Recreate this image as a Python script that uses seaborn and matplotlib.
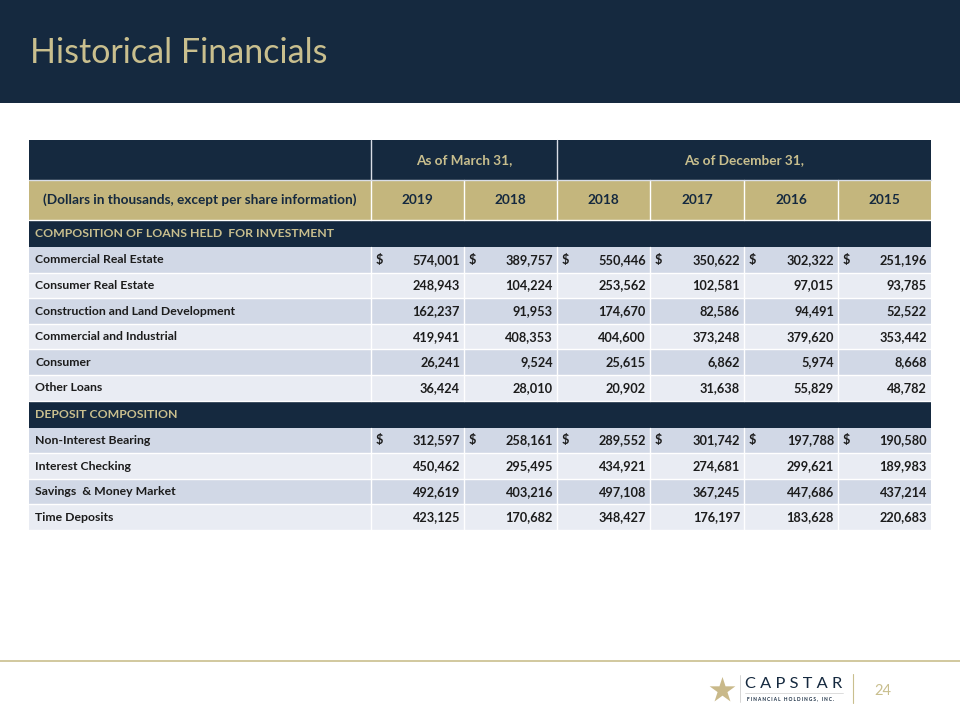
import matplotlib.pyplot as plt
import seaborn as sns
from matplotlib.patches import Rectangle

sns.set_theme(style="white")
plt.rcParams['font.family'] = ['Lato', 'DejaVu Sans']

# data
years = ["2019", "2018", "2018", "2017", "2016", "2015"]
groups = ["As of March 31,", "As of December 31,"]
loan_labels = ["Commercial Real Estate", "Consumer Real Estate",
               "Construction and Land Development", "Commercial and Industrial",
               "Consumer", "Other Loans"]
loan_values = [
    [574001, 389757, 550446, 350622, 302322, 251196],
    [248943, 104224, 253562, 102581, 97015, 93785],
    [162237, 91953, 174670, 82586, 94491, 52522],
    [419941, 408353, 404600, 373248, 379620, 353442],
    [26241, 9524, 25615, 6862, 5974, 8668],
    [36424, 28010, 20902, 31638, 55829, 48782],
]
deposit_labels = ["Non-Interest Bearing", "Interest Checking",
                  "Savings  & Money Market", "Time Deposits"]
deposit_values = [
    [312597, 258161, 289552, 301742, 197788, 190580],
    [450462, 295495, 434921, 274681, 299621, 189983],
    [492619, 403216, 497108, 367245, 447686, 437214],
    [423125, 170682, 348427, 176197, 183628, 220683],
]

NAVY = "#15293f"
GOLD = "#c4b67d"
TGOLD = "#c9bf8e"
ROW_A = "#d1d8e6"
ROW_B = "#e9ecf3"
TXT = "#1c1c1c"
HDR_FS = 9.8
LAB_FS = 8.8
NUM_FS = 9.2

fig = plt.figure(figsize=(9.6, 7.2), dpi=100)
ax = fig.add_axes([0, 0, 1, 1])
ax.set_xlim(0, 960)
ax.set_ylim(720, 0)
ax.axis("off")

# header band
ax.add_patch(Rectangle((0, 0), 960, 103, color=NAVY, lw=0))
ax.text(30, 53, "Historical Financials", color=TGOLD, fontsize=24.5, va="center", ha="left")

# table geometry
col_edges = [29, 371, 464, 557, 650, 744, 838, 931]
row_h = 25.6

def cell(x0, x1, y0, y1, color):
    ax.add_patch(Rectangle((x0, y0), x1 - x0, y1 - y0, color=color, lw=0))

# header row 1
cell(col_edges[0], col_edges[-1], 140, 180, NAVY)
ax.text((col_edges[1] + col_edges[3]) / 2, 160, groups[0], color=TGOLD, fontsize=HDR_FS,
        fontweight="bold", ha="center", va="center")
ax.text((col_edges[3] + col_edges[-1]) / 2, 160, groups[1], color=TGOLD, fontsize=HDR_FS,
        fontweight="bold", ha="center", va="center")
for x in [col_edges[1], col_edges[3]]:
    ax.plot([x, x], [140, 180], color="#d8dde6", lw=1)

# header row 2
cell(col_edges[0], col_edges[-1], 180, 220, GOLD)
ax.text((col_edges[0] + col_edges[1]) / 2, 200,
        "(Dollars in thousands, except per share information)",
        color=NAVY, fontsize=HDR_FS, fontweight="bold", ha="center", va="center")
for i, yr in enumerate(years):
    ax.text((col_edges[i + 1] + col_edges[i + 2]) / 2, 200, yr, color=NAVY,
            fontsize=HDR_FS, fontweight="bold", ha="center", va="center")
for x in col_edges[1:-1]:
    ax.plot([x, x], [180, 220], color="white", lw=1)
ax.plot([col_edges[0], col_edges[-1]], [180, 180], color="#d8dde6", lw=1)
ax.plot([col_edges[0], col_edges[-1]], [220, 220], color="white", lw=1)


def section(y0, title, labels, values):
    y1 = y0 + 27
    cell(col_edges[0], col_edges[-1], y0, y1, NAVY)
    ax.text(35, (y0 + y1) / 2, title, color=TGOLD, fontsize=8.8, fontweight="bold",
            ha="left", va="center")
    y = y1
    for r, (lab, vals) in enumerate(zip(labels, values)):
        color = ROW_A if r % 2 == 0 else ROW_B
        cell(col_edges[0], col_edges[-1], y, y + row_h, color)
        yc = y + row_h / 2
        ax.text(35, yc, lab, color=TXT, fontsize=LAB_FS, fontweight="bold",
                ha="left", va="center")
        for i, v in enumerate(vals):
            xl, xr = col_edges[i + 1], col_edges[i + 2]
            ax.text(xr - 4, yc, f"{v:,}", color=TXT, fontsize=NUM_FS, fontweight="bold",
                    ha="right", va="center")
            if r == 0:
                ax.text(xl + 5, yc, "$", color=TXT, fontsize=NUM_FS, fontweight="bold",
                        ha="left", va="center")
        for x in col_edges[1:-1]:
            ax.plot([x, x], [y, y + row_h], color="white", lw=1)
        ax.plot([col_edges[0], col_edges[-1]], [y + row_h, y + row_h], color="white", lw=1)
        y += row_h
    return y

y_next = section(220, "COMPOSITION OF LOANS HELD  FOR INVESTMENT", loan_labels, loan_values)
section(y_next, "DEPOSIT COMPOSITION", deposit_labels, deposit_values)

# footer
ax.plot([0, 960], [661, 661], color="#c9bf8e", lw=1.2)
ax.scatter([722], [690], marker="*", s=380, color="#c9b98a", lw=0)
ax.plot([740, 740], [675, 702], color="#cfcfcf", lw=0.6)
ax.text(745, 684, "C A P S T A R", color=NAVY, fontsize=11.8, ha="left", va="center")
ax.plot([745, 843], [693, 693], color="#cfcfcf", lw=0.5)
ax.text(747, 699, "F I N A N C I A L   H O L D I N G S ,   I N C .", color=NAVY,
        fontsize=3.4, fontweight="bold", ha="left", va="center")
ax.plot([853, 853], [674, 703], color="#c9bf8e", lw=0.8)
ax.text(883, 691, "24", color="#c9bf8e", fontsize=10.5, ha="center", va="center")

fig.savefig("out.png", dpi=100)
